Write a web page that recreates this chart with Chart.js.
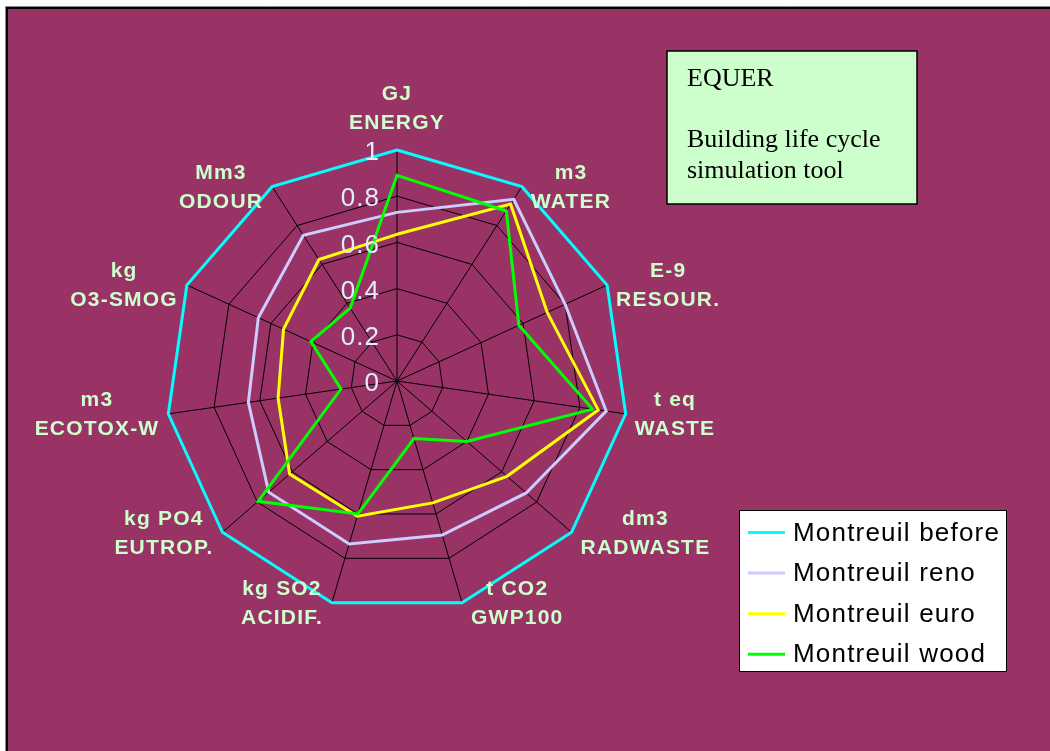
<!DOCTYPE html>
<html>
<head>
<meta charset="utf-8">
<script src="https://cdn.jsdelivr.net/npm/chart.js@4.4.1/dist/chart.umd.min.js"></script>
<style>
html,body{margin:0;padding:0;background:#fff;}
#wrap{width:1050px;height:751px;}
</style>
</head>
<body>
<div id="wrap"><canvas id="chart" width="1050" height="751"></canvas></div>
<script>
// ================= DATA =================
let unitLabels = ['GJ','m3','E-9','t eq','dm3','t CO2','kg SO2','kg PO4','m3','kg','Mm3'];
let indicatorLabels = ['ENERGY','WATER','RESOUR.','WASTE','RADWASTE','GWP100','ACIDIF.','EUTROP.','ECOTOX-W','O3-SMOG','ODOUR'];

let montreuilBefore = [1,1,1,1,1,1,1,1,1,1,1];
let montreuilReno   = [0.73,0.935,0.80,0.915,0.74,0.695,0.735,0.735,0.65,0.66,0.75];
let montreuilEuro   = [0.635,0.91,0.715,0.88,0.63,0.55,0.61,0.615,0.52,0.54,0.625];
let montreuilWood   = [0.89,0.875,0.58,0.855,0.40,0.26,0.60,0.795,0.245,0.41,0.375];

let tickValues = [0,0.2,0.4,0.6,0.8,1];
let tickLabels = ['0','0.2','0.4','0.6','0.8','1'];

let seriesNames = ['Montreuil before','Montreuil reno','Montreuil euro','Montreuil wood'];

let boxLines = ['EQUER','','Building life cycle','simulation tool'];

const MAROON = '#993366';

// ================= PLUGINS =================

// nền + khung
const bgPlugin = {
  id:'bg',
  beforeDraw(chart){
    const ctx = chart.ctx;
    ctx.save();
    ctx.fillStyle = '#fff';
    ctx.fillRect(0,0,chart.width,chart.height);
    ctx.fillStyle = MAROON;
    ctx.fillRect(7,8,chart.width-7,chart.height-8);
    ctx.strokeStyle = '#888';
    ctx.lineWidth = 1;
    ctx.beginPath();
    ctx.moveTo(5.5,chart.height); ctx.lineTo(5.5,6.5); ctx.lineTo(chart.width,6.5);
    ctx.stroke();
    ctx.strokeStyle = '#000';
    ctx.lineWidth = 2;
    ctx.beginPath();
    ctx.moveTo(7,chart.height); ctx.lineTo(7,8); ctx.lineTo(chart.width,8);
    ctx.stroke();
    ctx.restore();
  }
};

// nhãn trục (0 ... 1)
const tickPlugin = {
  id:'tickText',
  afterDatasetsDraw(chart){
    const ctx = chart.ctx;
    const r = chart.scales.r;
    ctx.save();
    ctx.font = '26px Arial, "Liberation Sans", sans-serif';
    if('letterSpacing' in ctx) ctx.letterSpacing = '1px';
    ctx.fillStyle = '#DDEEFF';
    ctx.textAlign = 'right';
    ctx.textBaseline = 'middle';
    tickValues.forEach((v,i)=>{
      const d = r.getDistanceFromCenterForValue(v);
      ctx.fillText(tickLabels[i], r.xCenter - 17, r.yCenter - d + 3);
    });
    ctx.restore();
  }
};

// tên các trục
const pointLabelPlugin = {
  id:'pointText',
  afterDraw(chart){
    const ctx = chart.ctx;
    const r = chart.scales.r;
    ctx.save();
    ctx.font = 'bold 21px Arial, "Liberation Sans", sans-serif';
    if('letterSpacing' in ctx) ctx.letterSpacing = '1.2px';
    ctx.fillStyle = '#CCFFCC';
    ctx.textAlign = 'center';
    ctx.textBaseline = 'middle';
    indicatorLabels.forEach((name,i)=>{
      const p = r.getPointPosition(i, r.drawingArea);
      const lines = [unitLabels[i], name];
      const w = Math.max(...lines.map(t=>ctx.measureText(t).width));
      const dx = Math.cos(p.angle);
      let cx, y1, y2;
      if(Math.abs(dx) < 0.1){
        cx = p.x; y2 = p.y - 27; y1 = p.y - 56;
      }else{
        cx = p.x + Math.sign(dx)*(9 + w/2);
        const cy = p.y + 1;
        y1 = cy - 14.5; y2 = cy + 14.5;
      }
      ctx.fillText(lines[0], cx, y1);
      ctx.fillText(lines[1], cx, y2);
    });
    ctx.restore();
  }
};

// hộp EQUER + chú thích
const boxPlugin = {
  id:'boxes',
  afterDraw(chart){
    const ctx = chart.ctx;
    ctx.save();
    // hộp EQUER
    ctx.fillStyle = '#CCFFCC';
    ctx.fillRect(667,51,250,153);
    ctx.strokeStyle = '#000';
    ctx.lineWidth = 1.5;
    ctx.strokeRect(667,51,250,153);
    ctx.fillStyle = '#000';
    ctx.font = '26px "Times New Roman", "Liberation Serif", serif';
    ctx.textAlign = 'left';
    ctx.textBaseline = 'alphabetic';
    boxLines.forEach((t,i)=>{
      ctx.fillText(t, 687, 86 + i*30.5);
    });

    // chú thích
    ctx.fillStyle = '#fff';
    ctx.fillRect(739,510,268,162);
    ctx.strokeStyle = '#000';
    ctx.lineWidth = 1;
    ctx.strokeRect(739.5,510.5,267,161);
    ctx.font = '26px Arial, "Liberation Sans", sans-serif';
    if('letterSpacing' in ctx) ctx.letterSpacing = '1.2px';
    ctx.textBaseline = 'middle';
    chart.data.datasets.forEach((ds,i)=>{
      const y = 532.5 + i*40.6;
      ctx.strokeStyle = ds.borderColor;
      ctx.lineWidth = 3;
      ctx.beginPath();
      ctx.moveTo(748,y); ctx.lineTo(785,y);
      ctx.stroke();
      ctx.fillStyle = '#000';
      ctx.fillText(ds.label, 793, y + 1);
    });
    ctx.restore();
  }
};

// ================= BIỂU ĐỒ =================
let ctx = document.getElementById('chart').getContext('2d');

let chart = new Chart(ctx, {
  type:'radar',
  data:{
    labels: indicatorLabels,
    datasets:[
      {label:seriesNames[0], data:montreuilBefore, borderColor:'#00FFFF', order:3},
      {label:seriesNames[1], data:montreuilReno, borderColor:'#CCCCFF', order:2},
      {label:seriesNames[2], data:montreuilEuro, borderColor:'#FFFF00', order:1},
      {label:seriesNames[3], data:montreuilWood, borderColor:'#00FF00', order:0}
    ]
  },
  options:{
    responsive:false,
    animation:false,
    devicePixelRatio:1,
    layout:{padding:{left:166, top:150, right:422, bottom:139}},
    elements:{
      line:{borderWidth:3, fill:false, tension:0},
      point:{radius:0, hoverRadius:0}
    },
    plugins:{legend:{display:false}, tooltip:{enabled:false}},
    scales:{
      r:{
        min:0, max:1,
        ticks:{stepSize:0.2, display:false},
        grid:{color:'#000', lineWidth:1},
        angleLines:{color:'#000', lineWidth:1},
        pointLabels:{display:false}
      }
    }
  },
  plugins:[bgPlugin, tickPlugin, pointLabelPlugin, boxPlugin]
});
</script>
</body>
</html>
